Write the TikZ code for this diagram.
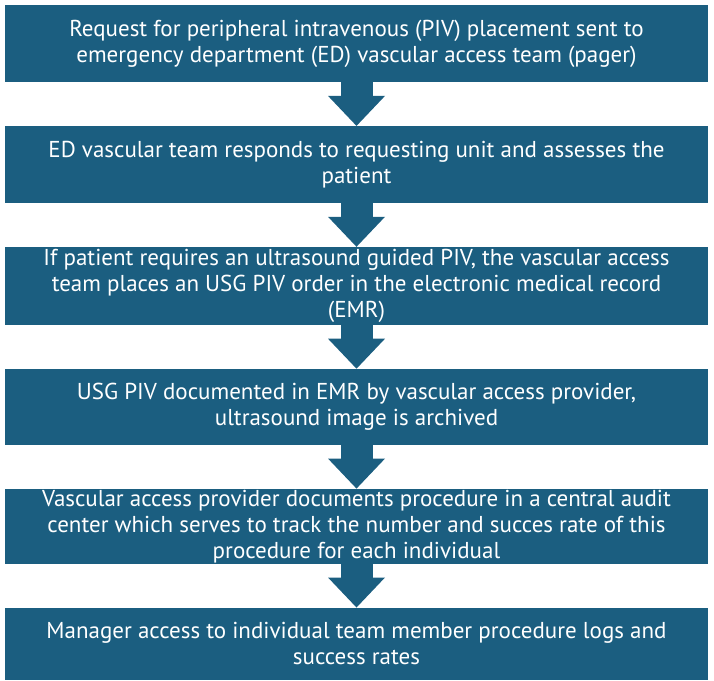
\documentclass[tikz,border=0pt]{standalone}
\usepackage{fontspec}
\setmainfont{PT Sans}
\usetikzlibrary{arrows.meta,positioning}
\definecolor{vaBlue}{HTML}{1B5E80}

\begin{document}
\begin{tikzpicture}[x=1pt,y=-1pt,
node distance=43.5pt,
stepbox/.style={rectangle,fill=vaBlue,text=white,align=center,
font=\fontsize{23}{26}\selectfont,inner sep=0pt,
minimum width=703pt},
down/.style={draw=vaBlue,line width=32pt,
-{Triangle[length=30pt,width=57pt,line width=0pt]}}
]
\useasboundingbox (0,0) rectangle (714,680);
\node[stepbox,minimum height=77pt,anchor=north] (req) at (356.5,5)
  {Request for peripheral intravenous (PIV) placement sent to\\
   emergency department (ED) vascular access team (pager)};
\node[stepbox,minimum height=77pt,below=of req] (resp)
  {ED vascular team responds to requesting unit and assesses the\\
   patient};
\node[stepbox,minimum height=78pt,below=of resp] (order)
  {If patient requires an ultrasound guided PIV, the vascular access\\
   team places an USG PIV order in the electronic medical record\\
   (EMR)};
\node[stepbox,minimum height=76pt,below=of order] (doc)
  {USG PIV documented in EMR by vascular access provider,\\
   ultrasound image is archived};
\node[stepbox,minimum height=75pt,below=of doc] (audit)
  {Vascular access provider documents procedure in a central audit\\
   center which serves to track the number and succes rate of this\\
   procedure for each individual};
\node[stepbox,minimum height=72pt,below=of audit] (mgr)
  {Manager access to individual team member procedure logs and\\
   success rates};

\foreach \a/\b in {req/resp,resp/order,order/doc,doc/audit,audit/mgr}
  \draw[down] (\a) -- (\b);
\end{tikzpicture}
\end{document}
